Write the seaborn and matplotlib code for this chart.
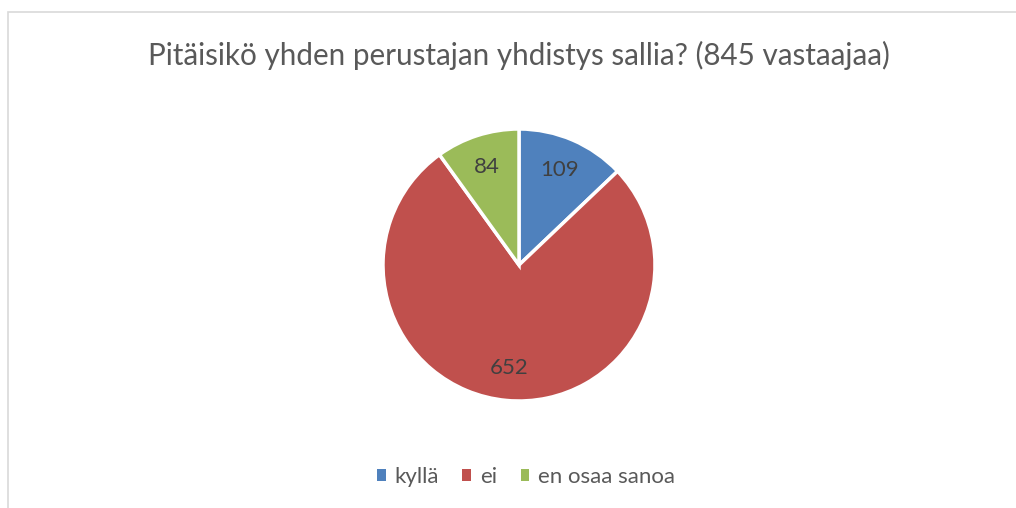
import numpy as np
import matplotlib
matplotlib.use("Agg")
import matplotlib.pyplot as plt
import seaborn as sns
from matplotlib.patches import Rectangle, Patch

# data
categories = ['kyllä', 'ei', 'en osaa sanoa']
answers = [109, 652, 84]
colors = ['#4F81BD', '#C0504D', '#9BBB59']
title = 'Pitäisikö yhden perustajan yhdistys sallia? (845 vastaajaa)'

sns.set_theme(style="white")
plt.rcParams['font.family'] = ['Lato', 'DejaVu Sans']

W, H = 1016, 508
fig = plt.figure(figsize=(W / 100, H / 100), dpi=100)

# chart frame (light grey, only left and top are visible)
fig.patches.append(Rectangle((7.5 / W, -0.1), 2.0, (H - 12) / H + 0.1,
                             transform=fig.transFigure, fill=False,
                             edgecolor='#D9D9D9', linewidth=1.2))

# pie axis: centre ~ (519, 265), radius ~ 136 px
cx, cy, r = 519, 265, 136
ax = fig.add_axes([(cx - r) / W, (H - cy - r) / H, 2 * r / W, 2 * r / H])

wedges, texts, autotexts = ax.pie(
    answers, colors=colors, startangle=90, counterclock=False,
    autopct=lambda p: f"{round(p * sum(answers) / 100):d}",
    pctdistance=0.76, radius=1.0,
    wedgeprops=dict(edgecolor='white', linewidth=2.5),
    textprops=dict(fontsize=16, color='#404040'))
ax.set_xlim(-1, 1)
ax.set_ylim(-1, 1)
ax.set_aspect('equal')
ax.axis('off')

fig.text(cx / W, 1 - 55 / H, title, ha='center', va='center',
         fontsize=21.3, color='#595959')

# legend squares without the white wedge edge
handles = [Patch(facecolor=c, edgecolor='none') for c in colors]
leg = fig.legend(handles, categories, loc='center', bbox_to_anchor=(526 / W, 1 - 477 / H),
                 ncol=3, frameon=False, fontsize=16.0, handlelength=0.4, handleheight=0.4,
                 handletextpad=0.4, columnspacing=1.05, labelcolor='#595959')

fig.savefig('out.png', dpi=100)
